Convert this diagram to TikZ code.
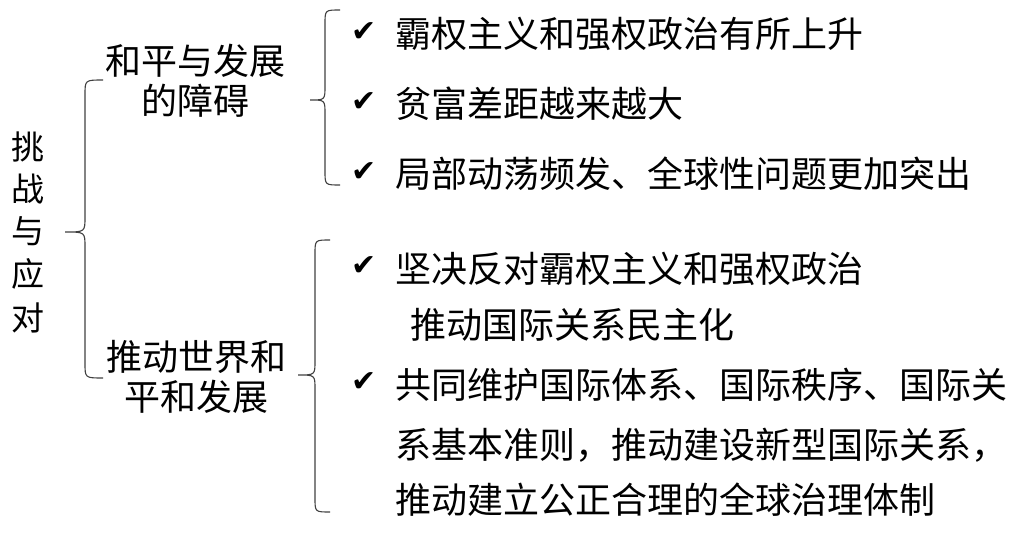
\documentclass[tikz,border=0pt]{standalone}
\usepackage{fontspec}
\setmainfont{Liberation Serif}
\newfontfamily\cjk{Noto Sans CJK SC}
\newfontfamily\symf{DejaVu Sans}
\tikzset{
  lbl/.style={inner sep=0pt, font=\cjk\fontsize{36}{40}\selectfont},
  side/.style={inner sep=0pt, font=\cjk\fontsize{33}{36}\selectfont, anchor=base},
  tick/.style={inner sep=0pt, anchor=base, font=\symf\fontsize{30}{34}\selectfont},
  brace/.style={draw=black!75, line width=1.1pt}
}
\begin{document}
\begin{tikzpicture}[x=1pt,y=-1pt]
\useasboundingbox (0,0) rectangle (1024,534);
% left vertical title
\node[side] (c1) at (28,160) {挑};
\node[side] (c2) at (28,202) {战};
\node[side] (c3) at (28,244) {与};
\node[side] (c4) at (28,287) {应};
\node[side] (c5) at (28,330) {对};
% level 2 labels
\node[lbl, anchor=base] (a1) at (195,75) {和平与发展};
\node[lbl, anchor=base] (a2) at (195,115) {的障碍};
\node[lbl, anchor=base] (b1) at (196,370) {推动世界和};
\node[lbl, anchor=base] (b2) at (196,410) {平和发展};
% braces
\draw[brace] (103,80) .. controls (85,80) .. (85,95) -- (85,217) .. controls (85,232) .. (65,232)
  .. controls (85,232) .. (85,247) -- (85,363) .. controls (85,378) .. (103,378);
\draw[brace] (340,10) .. controls (325,10) .. (325,24) -- (325,86) .. controls (325,100) .. (310,100)
  .. controls (325,100) .. (325,114) -- (325,171) .. controls (325,185) .. (340,185);
\draw[brace] (330,240) .. controls (315,240) .. (315,254) -- (315,361) .. controls (315,375) .. (298,375)
  .. controls (315,375) .. (315,389) -- (315,498) .. controls (315,512) .. (330,512);
% ticks
\node[tick] (t1) at (364,42) {✔};
\node[tick] (t2) at (364,112) {✔};
\node[tick] (t3) at (364,182) {✔};
\node[tick] (t4) at (364,276) {✔};
\node[tick] (t5) at (364,391) {✔};
% items
\node[lbl, anchor=base west] (i1) at (395,48) {霸权主义和强权政治有所上升};
\node[lbl, anchor=base west] (i2) at (395,118) {贫富差距越来越大};
\node[lbl, anchor=base west] (i3) at (395,188) {局部动荡频发、全球性问题更加突出};
\node[lbl, anchor=base west] (i4) at (395,283) {坚决反对霸权主义和强权政治};
\node[lbl, anchor=base west] (i5) at (410,338) {推动国际关系民主化};
\node[lbl, anchor=base west] (i6) at (395,398) {共同维护国际体系、国际秩序、国际关};
\node[lbl, anchor=base west] (i7) at (395,458) {系基本准则，推动建设新型国际关系，};
\node[lbl, anchor=base west] (i8) at (395,513) {推动建立公正合理的全球治理体制};
\end{tikzpicture}
\end{document}
